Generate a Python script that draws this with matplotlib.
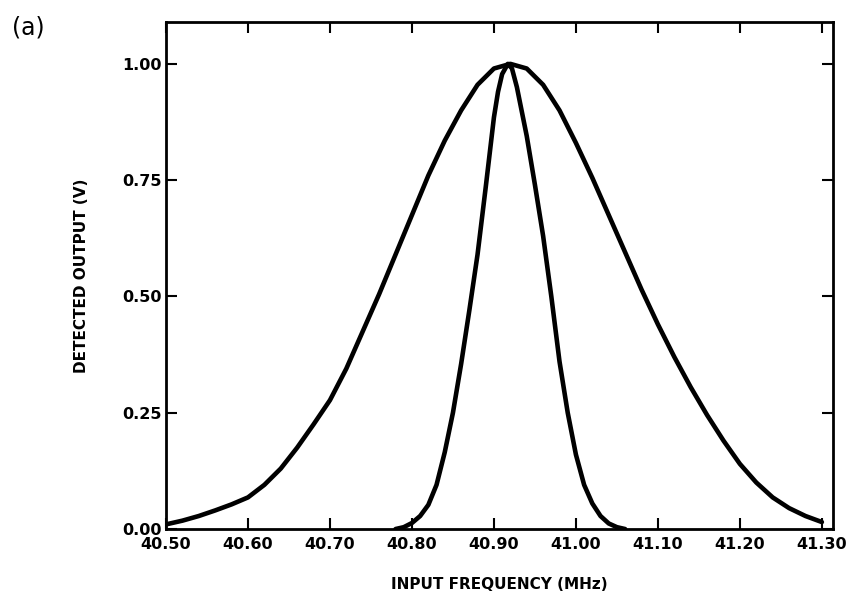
import matplotlib.pyplot as plt

# wide response curve
wide_freq = [40.50, 40.52, 40.54, 40.56, 40.58, 40.60, 40.62, 40.64, 40.66, 40.68,
             40.70, 40.72, 40.74, 40.76, 40.78, 40.80, 40.82, 40.84, 40.86, 40.88,
             40.90, 40.92, 40.94, 40.96, 40.98, 41.00, 41.02, 41.04, 41.06, 41.08,
             41.10, 41.12, 41.14, 41.16, 41.18, 41.20, 41.22, 41.24, 41.26, 41.28,
             41.30]
wide_out = [0.010, 0.018, 0.028, 0.040, 0.053, 0.068, 0.095, 0.130, 0.175, 0.225,
            0.277, 0.345, 0.425, 0.505, 0.590, 0.675, 0.760, 0.835, 0.900, 0.955,
            0.990, 1.000, 0.990, 0.955, 0.900, 0.830, 0.755, 0.675, 0.595, 0.515,
            0.440, 0.370, 0.305, 0.245, 0.190, 0.140, 0.100, 0.068, 0.045, 0.028,
            0.015]

# narrow response curve
narrow_freq = [40.78, 40.79, 40.80, 40.81, 40.82, 40.83, 40.84, 40.85, 40.86, 40.87,
               40.88, 40.89, 40.90, 40.905, 40.91, 40.917, 40.922, 40.928, 40.94,
               40.95, 40.96, 40.97, 40.98, 40.99, 41.00, 41.01, 41.02, 41.03, 41.04,
               41.05, 41.06]
narrow_out = [0.000, 0.004, 0.013, 0.028, 0.052, 0.095, 0.165, 0.250, 0.355, 0.470,
              0.590, 0.735, 0.885, 0.940, 0.978, 1.000, 0.990, 0.950, 0.845,
              0.740, 0.630, 0.500, 0.360, 0.250, 0.160, 0.095, 0.055, 0.028, 0.012,
              0.004, 0.000]

x_ticks = [40.50, 40.60, 40.70, 40.80, 40.90, 41.00, 41.10, 41.20, 41.30]
x_labels = ['40.50', '40.60', '40.70', '40.80', '40.90', '41.00', '41.10', '41.20', '41.30']
y_ticks = [0.00, 0.25, 0.50, 0.75, 1.00]
y_labels = ['0.00', '0.25', '0.50', '0.75', '1.00']

plt.rcParams['font.family'] = 'DejaVu Sans'

fig = plt.figure(figsize=(8.49, 6.06), dpi=100)
ax = fig.add_axes([0.1955, 0.127, 0.7855, 0.8367])

ax.plot(wide_freq, wide_out, color='black', lw=3.3, solid_capstyle='round', solid_joinstyle='round')
ax.plot(narrow_freq, narrow_out, color='black', lw=3.3, solid_capstyle='round', solid_joinstyle='round')

ax.set_xlim(40.50, 41.3134)
ax.set_ylim(0.0, 1.09)
ax.set_xticks(x_ticks)
ax.set_xticklabels(x_labels)
ax.set_yticks(y_ticks)
ax.set_yticklabels(y_labels)

ax.tick_params(direction='in', length=8, width=1.5, top=True, right=True,
               labelsize=11.5)
ax.tick_params(axis='x', pad=6)
ax.tick_params(axis='y', pad=3)
for lab in ax.get_xticklabels() + ax.get_yticklabels():
    lab.set_fontweight('bold')
for sp in ax.spines.values():
    sp.set_linewidth(2.0)

ax.set_xlabel('INPUT FREQUENCY (MHz)', fontsize=11, fontweight='bold', labelpad=18)
ax.set_ylabel('DETECTED OUTPUT (V)', fontsize=11, fontweight='bold', labelpad=24)

fig.text(0.033, 0.955, '(a)', fontsize=17, ha='center', va='center')

fig.savefig('out.png', dpi=100)
